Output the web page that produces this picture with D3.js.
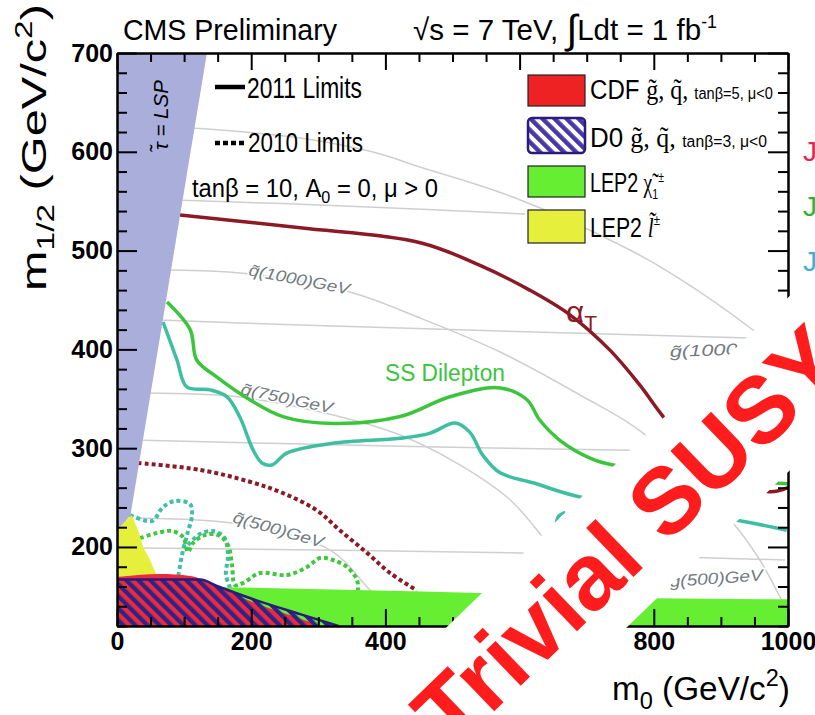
<!DOCTYPE html>
<html>
<head>
<meta charset="utf-8">
<script src="https://cdn.jsdelivr.net/npm/d3@7/dist/d3.min.js"></script>
<style>
  html, body { margin: 0; padding: 0; background: #fff; }
  svg { display: block; }
  text { font-family: "Liberation Sans", Arial, sans-serif; }
</style>
</head>
<body>
<svg id="chart" width="815" height="715"></svg>
<script>
// ---- axes (GeV/c^2) ----
const m0Major = [0, 200, 400, 600, 800, 1000];
const m0Minor = d3.range(0, 1001, 50);
const m12Major = [200, 300, 400, 500, 600, 700];
const m12Minor = d3.range(120, 701, 20);

// ---- 2011 limits: [m0, m1/2] ----
const alphaT2011 = [[94,536],[273,523],[452,508],[541,485],[615,460],[675,435],[735,399],[779,364],[814,332],[870,290],[969,256],[1000,260]];
const ssDilepton2011 = [[74.5,448],[109,420],[119,389],[149,372],[198,349],[247,332],[322,325],[422,332],[496,352],[571,361],[611,349],[630,328.5],[660,308],[705,290],[739,283],[869,273],[975,265],[1000,264]];
const jets2011 = [[68.6,427.7],[89.4,389.2],[104,362],[139,359],[164,352],[183,331.5],[203,298],[216,285],[231,283],[253,295],[322,305],[422,310],[466,315],[504,325.5],[526,316],[545,293],[571,275],[620,265],[690,250.6],[924,227],[998,217]];
const jetsArc2011 = [[668,235],[658,231],[655,224]];

// ---- 2010 limits ----
const alphaT2010 = [[31,285],[124,278],[198,266],[247,254.6],[298,237],[332,217],[372.6,194],[407,173.6],[447,156]];
const jets2010a = [[19.4,232.3],[52,226.3],[68.6,240.4],[86.4,246.5],[108.8,243.5],[111.8,232.3],[104.3,212.1],[96.9,191.9],[90.9,168.6]];
const jets2010b = [[105.8,202],[123.7,213.1],[143,216.1],[159.5,210],[165.4,191.9],[162.4,171.6],[170,156.4]];
const ssDilepton2010 = [[34.3,209],[59.6,214.1],[82,216.1],[98.4,210],[105.8,194.9],[113.3,204],[131.1,212.1],[150.5,212.1],[165.4,202],[171.4,181.7],[175.9,161.5],[187.8,163.5],[213.1,173.6],[253.4,171.6],[283.2,179.7],[302.5,188.8],[321.9,186.8],[342.8,179.7],[357.7,166.6],[359.2,156.4]];

// ---- earlier exclusions ----
const lep2Chargino = [[0,162],[150,159.5],[540,153.5],[800,148],[1000,147]];
const lep2Slepton = [[0,160],[0,217],[12,226],[22,232],[32,216],[39,200],[49,187],[60,170],[64,160]];
const stauLSP = [[0,216],[0,700],[134,700],[61,400],[20,232]];
const cdfLimit = [[0,169.6],[64,172.6],[109,170.6],[149,160.5],[198,145.3],[258,131],[288,124],[303,120]];
const d0Limit = [[0,167],[124,167],[149,160.5],[198,148.3],[273,132],[330,120]];

// ---- iso-mass contours ----
const isoSquark1250 = [[113,624],[273,614],[381.5,599.7],[451.6,584.6],[590,554.2],[764.5,500.6],[834.6,473.2],[947.8,419.6],[1000,389.2]];
const isoGluino1250 = [[98,551],[347,545],[608,537]];
const isoSquark1000 = [[74.5,480.3],[198,476.3],[347,458],[451.6,431.7],[571,397.3],[690,353.8],[784,315.3],[918,224.2],[958,186.8],[988,149.4],[1000,134]];
const isoGluino1000 = [[64,429.7],[273,424.6],[571,418.6],[943,411.5]];
const isoSquark750 = [[42,355.8],[183,351.8],[322,333.6],[422,313.3],[511,283],[586,247.5],[638,207],[720,136]];
const isoGluino750 = [[39,308],[422,302],[764.5,298]];
const isoSquark500 = [[34,229],[173,224],[317,197],[377,156.4],[407,136]];
const isoGluino500 = [[39,199],[600.6,194],[995.5,186.8]];

const svg = d3.select("#chart");
const x = d3.scaleLinear().domain([0, 1000]).range([117, 788]);
const y = d3.scaleLinear().domain([120, 700]).range([626, 53]);

const defs = svg.append("defs");
defs.append("clipPath").attr("id", "plotClip")
  .append("rect").attr("x", x(0)).attr("y", y(700)).attr("width", x(1000) - x(0)).attr("height", y(120) - y(700));

// diagonal hatching for the D0 region
const hatch = defs.append("pattern").attr("id", "d0Hatch").attr("patternUnits", "userSpaceOnUse")
  .attr("width", 8.5).attr("height", 8.5).attr("patternTransform", "rotate(-45)");
hatch.append("rect").attr("x", 0).attr("y", 0).attr("width", 4.2).attr("height", 8.5).attr("fill", "#2d2488");

const hatchKey = defs.append("pattern").attr("id", "d0HatchKey").attr("patternUnits", "userSpaceOnUse")
  .attr("width", 8.5).attr("height", 8.5).attr("patternTransform", "rotate(-45)");
hatchKey.append("rect").attr("width", 8.5).attr("height", 8.5).attr("fill", "#fff");
hatchKey.append("rect").attr("width", 4.5).attr("height", 8.5).attr("fill", "#4b38a8");

const smooth = d3.line().x(d => x(d[0])).y(d => y(d[1])).curve(d3.curveCatmullRom.alpha(0.5));
const poly = d3.line().x(d => x(d[0])).y(d => y(d[1])).curve(d3.curveLinearClosed);
const areaDown = d3.area().x(d => x(d[0])).y0(y(120)).y1(d => y(d[1])).curve(d3.curveMonotoneX);

const plot = svg.append("g").attr("clip-path", "url(#plotClip)");

// iso-mass contours
const grid = plot.append("g").attr("fill", "none").attr("stroke", "#cfcfcf").attr("stroke-width", 1.5);
[isoSquark1250, isoGluino1250, isoSquark1000, isoGluino1000, isoSquark750, isoGluino750, isoSquark500, isoGluino500]
  .forEach(c => grid.append("path").attr("d", smooth(c)));

function isoLabel(px, py, angle, width, str) {
  const g = plot.append("g").attr("transform", `translate(${px},${py}) rotate(${angle})`);
  const inner = g.append("g");
  const t = inner.append("text").attr("font-family", "'DejaVu Sans Mono', monospace").attr("font-style", "italic")
    .attr("font-size", 16).attr("fill", "#737a80").attr("stroke", "#fff").attr("stroke-width", 3)
    .attr("paint-order", "stroke").text(str);
  const w = t.node().getBBox().width;
  inner.attr("transform", `scale(${width / w},1)`);
}
isoLabel(248, 275, 11, 104, "q\u0303(1000)GeV");
isoLabel(240, 394, 12, 95, "q\u0303(750)GeV");
isoLabel(232, 522, 16, 95, "q\u0303(500)GeV");
isoLabel(670, 357, -2, 68, "g\u0303(1000");
isoLabel(670, 587, -4, 95, "g\u0303(500)GeV");

// 2010 limits (dotted)
const dotted = plot.append("g").attr("fill", "none").attr("stroke-width", 4).attr("stroke-dasharray", "4,3");
dotted.append("path").attr("d", smooth(alphaT2010)).attr("stroke", "#8c1a26");
dotted.append("path").attr("d", smooth(jets2010a)).attr("stroke", "#3fc0a6");
dotted.append("path").attr("d", smooth(jets2010b)).attr("stroke", "#3fc0a6");
dotted.append("path").attr("d", smooth(ssDilepton2010)).attr("stroke", "#3fc83f");

// 2011 limits (solid)
const solid = plot.append("g").attr("fill", "none").attr("stroke-width", 3.5).attr("stroke-linejoin", "round");
solid.append("path").attr("d", smooth(jets2011)).attr("stroke", "#40bea2");
solid.append("path").attr("d", smooth(jetsArc2011)).attr("stroke", "#40bea2");
solid.append("path").attr("d", smooth(ssDilepton2011)).attr("stroke", "#3cc43c");
solid.append("path").attr("d", smooth(alphaT2011)).attr("stroke", "#8c1a26");

// excluded regions
plot.append("path").attr("d", areaDown(lep2Chargino)).attr("fill", "#66ee33");
plot.append("path").attr("d", poly(stauLSP)).attr("fill", "#a9aedb");
plot.append("path").attr("d", poly(lep2Slepton)).attr("fill", "#e6ef3c");
plot.append("path").attr("d", areaDown(cdfLimit)).attr("fill", "#ec2a3e");
plot.append("path").attr("d", areaDown(d0Limit)).attr("fill", "url(#d0Hatch)");
plot.append("path").attr("d", d3.line().x(d => x(d[0])).y(d => y(d[1])).curve(d3.curveMonotoneX)(d0Limit))
  .attr("fill", "none").attr("stroke", "#2b1b7a").attr("stroke-width", 2.5);

// frame and ticks
function axisStyle(g) {
  g.selectAll("path.domain").attr("stroke", "#000").attr("stroke-width", 2);
  g.selectAll(".tick line").attr("stroke", "#000").attr("stroke-width", 2);
  g.selectAll(".tick text").attr("font-family", "'Liberation Sans Narrow', 'Liberation Sans', sans-serif")
    .attr("font-weight", "bold").attr("font-size", 25).attr("fill", "#000");
}
const minorX = m0Minor.filter(v => !m0Major.includes(v));
const minorY = m12Minor.filter(v => !m12Major.includes(v));
svg.append("g").attr("transform", `translate(0,${y(120)})`)
  .call(d3.axisBottom(x).tickValues(minorX).tickSize(-9).tickSizeOuter(0).tickFormat(""))
  .call(axisStyle);
svg.append("g").attr("transform", `translate(0,${y(120)})`)
  .call(d3.axisBottom(x).tickValues(m0Major).tickSize(-17).tickSizeOuter(0).tickPadding(6).tickFormat(d3.format("d")))
  .call(axisStyle);
svg.append("g").attr("transform", `translate(0,${y(700)})`)
  .call(d3.axisTop(x).tickValues(minorX).tickSize(-9).tickSizeOuter(0).tickFormat(""))
  .call(axisStyle);
svg.append("g").attr("transform", `translate(0,${y(700)})`)
  .call(d3.axisTop(x).tickValues(m0Major).tickSize(-17).tickSizeOuter(0).tickFormat(""))
  .call(axisStyle);
svg.append("g").attr("transform", `translate(${x(0)},0)`)
  .call(d3.axisLeft(y).tickValues(minorY).tickSize(-10).tickSizeOuter(0).tickFormat(""))
  .call(axisStyle);
svg.append("g").attr("transform", `translate(${x(0)},0)`)
  .call(d3.axisLeft(y).tickValues(m12Major).tickSize(-20).tickSizeOuter(0).tickPadding(4).tickFormat(d3.format("d")))
  .call(axisStyle);
svg.append("g").attr("transform", `translate(${x(1000)},0)`)
  .call(d3.axisRight(y).tickValues(minorY).tickSize(-10).tickSizeOuter(0).tickFormat(""))
  .call(axisStyle);
svg.append("g").attr("transform", `translate(${x(1000)},0)`)
  .call(d3.axisRight(y).tickValues(m12Major).tickSize(-20).tickSizeOuter(0).tickFormat(""))
  .call(axisStyle);

// text helper: draws parts at (px,py), rotated, stretched horizontally to a given width
function fitText(o) {
  const g = svg.append("g").attr("transform", `translate(${o.x},${o.y}) rotate(${o.rotate || 0})`);
  const inner = g.append("g");
  const t = inner.append("text").attr("font-size", o.size).attr("fill", o.fill || "#000")
    .attr("font-weight", o.weight || "normal").attr("font-style", o.style || "normal");
  if (o.family) t.attr("font-family", o.family);
  o.parts.forEach(p => {
    const s = typeof p === "string" ? { t: p } : p;
    const ts = t.append("tspan").text(s.t);
    if (s.size) ts.attr("font-size", s.size);
    if (s.dy) ts.attr("dy", s.dy);
    if (s.family) ts.attr("font-family", s.family);
    if (s.style) ts.attr("font-style", s.style);
  });
  if (o.width) {
    const w = t.node().getBBox().width;
    inner.attr("transform", `scale(${o.width / w},1)`);
  }
  return t;
}

// titles
fitText({ x: 123, y: 40, size: 30, width: 214, parts: ["CMS Preliminary"] });
fitText({ x: 413, y: 40, size: 30, width: 304, parts: [
  "\u221As = 7 TeV, ", { t: "\u222B", size: 40, dy: 3 }, { t: "Ldt = 1 fb", dy: -3 }, { t: "-1", size: 18, dy: -12 } ] });
fitText({ x: 46, y: 291, rotate: -90, size: 35, width: 287, parts: [
  "m", { t: "1/2", size: 24, dy: 8 }, { t: " (GeV/c", dy: -8 }, { t: "2", size: 24, dy: -14 }, { t: ")", dy: 14 } ] });
fitText({ x: 612, y: 700, size: 34, width: 178, parts: [
  "m", { t: "0", size: 24, dy: 9 }, { t: " (GeV/c", dy: -9 }, { t: "2", size: 24, dy: -14 }, { t: ")", dy: 14 } ] });

// limit-year key
svg.append("line").attr("x1", 215).attr("x2", 245).attr("y1", 87).attr("y2", 87).attr("stroke", "#000").attr("stroke-width", 4.5);
svg.append("line").attr("x1", 215).attr("x2", 245).attr("y1", 143).attr("y2", 143).attr("stroke", "#000").attr("stroke-width", 4.5).attr("stroke-dasharray", "5,3");
fitText({ x: 247, y: 98, size: 29, width: 115, parts: ["2011 Limits"] });
fitText({ x: 248, y: 152, size: 28, width: 115, parts: ["2010 Limits"] });
fitText({ x: 192, y: 197, size: 25, width: 246, parts: [
  "tan\u03B2 = 10,  A", { t: "0", size: 17, dy: 6 }, { t: " = 0,  \u03BC > 0", dy: -6 } ] });
fitText({ x: 168, y: 150, rotate: -90, size: 21, width: 73, style: "italic", parts: ["\u03C4\u0303 = LSP"] });

// curve labels
fitText({ x: 385, y: 381, size: 24, width: 120, fill: "#3cc43c", parts: ["SS Dilepton"] });
fitText({ x: 566, y: 322, size: 30, width: 31, fill: "#8c1a26", parts: ["\u03B1", { t: "T", size: 20, dy: 8 }] });

// region key
const key = svg.append("g");
key.append("rect").attr("x", 528).attr("y", 75).attr("width", 57).attr("height", 31).attr("fill", "#ee2222").attr("stroke", "#222").attr("stroke-width", 1.2);
key.append("rect").attr("x", 528).attr("y", 118).attr("width", 57).attr("height", 35).attr("rx", 4).attr("fill", "url(#d0HatchKey)").attr("stroke", "#2b1b7a").attr("stroke-width", 2.5);
key.append("rect").attr("x", 528).attr("y", 166).attr("width", 57).attr("height", 31).attr("fill", "#66ee33").attr("stroke", "#222").attr("stroke-width", 1.2);
key.append("rect").attr("x", 528).attr("y", 210).attr("width", 57).attr("height", 33).attr("fill", "#e6ef3c").attr("stroke", "#222").attr("stroke-width", 1.2);
const serif = "'Liberation Serif', serif";
fitText({ x: 590, y: 99, size: 28, width: 183, parts: [
  "CDF ", { t: "g\u0303, q\u0303, ", family: serif }, { t: "tan\u03B2=5, \u03BC<0", size: 17 } ] });
fitText({ x: 590, y: 147, size: 28, width: 177, parts: [
  "D0  ", { t: "g\u0303, q\u0303, ", family: serif }, { t: "tan\u03B2=3, \u03BC<0", size: 17 } ] });
fitText({ x: 590, y: 192, size: 28, width: 74, parts: [
  "LEP2  ", { t: "\u03C7\u0303", family: serif }, { t: "1", size: 15, dy: 7 }, { t: "\u00B1", size: 15, dy: -17 } ] });
fitText({ x: 590, y: 237, size: 28, width: 70, parts: [
  "LEP2  ", { t: "l\u0303", family: serif, style: "italic" }, { t: "\u00B1", size: 15, dy: -12 } ] });

// neighbouring key entries at the right edge
[["#e8254a", 161], ["#33b033", 216], ["#44aadd", 271]].forEach(([c, py]) =>
  svg.append("text").attr("x", 803).attr("y", py).attr("font-size", 28).attr("fill", c).text("J"));

// diagonal banner
svg.append("polygon").attr("points", "-100,1155 1000,93 1000,268 -100,1327").attr("fill", "#fff");
svg.append("text").attr("transform", "translate(452,752) rotate(-44)")
  .attr("font-size", 94).attr("font-weight", "bold").attr("fill", "#ff1c1c").text("Trivial SUSY C");
</script>
</body>
</html>
